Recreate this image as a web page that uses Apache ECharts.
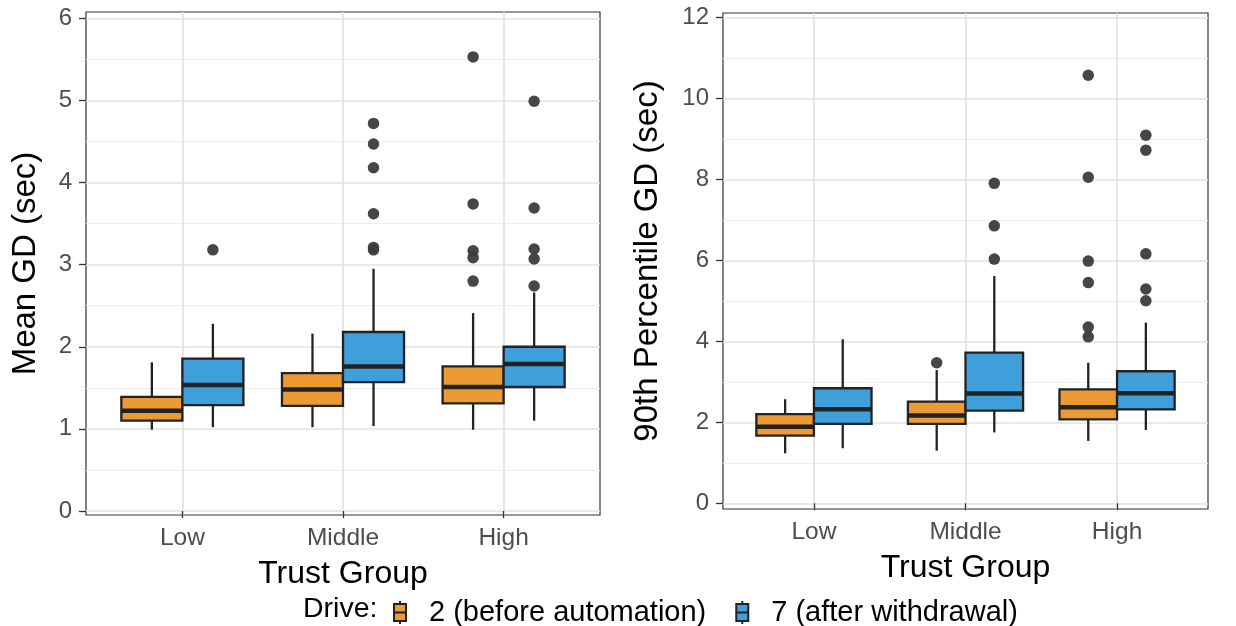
<!DOCTYPE html>
<html>
<head>
<meta charset="utf-8">
<script src="https://cdn.jsdelivr.net/npm/echarts@6/dist/echarts.min.js"></script>
<style>
  html, body { margin: 0; padding: 0; background: #fff; }
  #chart { width: 1236px; height: 626px; }
</style>
</head>
<body>
<div id="chart"></div>
<script>
// Categories and drives
const trustGroups = ['Low', 'Middle', 'High'];
const driveNames = ['2 (before automation)', '7 (after withdrawal)'];

// Mean GD (sec): [lower whisker, Q1, median, Q3, upper whisker] per trust group
const meanGdDrive2 = [
  [0.99, 1.10, 1.22, 1.39, 1.81],
  [1.02, 1.28, 1.48, 1.68, 2.16],
  [0.99, 1.31, 1.51, 1.76, 2.41]
];
const meanGdDrive7 = [
  [1.02, 1.29, 1.535, 1.855, 2.28],
  [1.035, 1.57, 1.76, 2.18, 2.95],
  [1.10, 1.51, 1.79, 2.00, 2.66]
];
const meanGdOutliers2 = [[], [], [5.53, 3.74, 3.17, 3.085, 2.80]];
const meanGdOutliers7 = [[3.18], [4.72, 4.47, 4.18, 3.62, 3.21, 3.18], [4.99, 3.69, 3.19, 3.07, 2.74]];

// 90th percentile GD (sec)
const p90Drive2 = [
  [1.235, 1.67, 1.89, 2.20, 2.57],
  [1.30, 1.96, 2.17, 2.51, 3.29],
  [1.54, 2.07, 2.37, 2.815, 3.47]
];
const p90Drive7 = [
  [1.36, 1.96, 2.32, 2.84, 4.05],
  [1.75, 2.29, 2.71, 3.72, 5.61],
  [1.81, 2.32, 2.72, 3.26, 4.46]
];
const p90Outliers2 = [[], [3.47], [10.57, 8.05, 5.98, 5.45, 4.35, 4.11]];
const p90Outliers7 = [[], [7.90, 6.85, 6.03], [9.09, 8.72, 6.16, 5.29, 5.00]];

// Tick values
const meanGdTicks = [0, 1, 2, 3, 4, 5, 6];
const meanGdMinorTicks = [0.5, 1.5, 2.5, 3.5, 4.5, 5.5];
const p90Ticks = [0, 2, 4, 6, 8, 10, 12];
const p90MinorTicks = [1, 3, 5, 7, 9, 11];
const categoryTicks = [1, 2, 3];

// Styling
const FONT = '"Liberation Sans", Arial, Helvetica, sans-serif';
const DRIVE_COLORS = ['#EC9A34', '#3E9FDB'];
const INK = '#222222';
const BOX_WIDTH = 0.38;
const DODGE = [-0.19, 0.19];

function renderBox(params, api) {
  const x = api.value(0);
  const lo = api.coord([x, api.value(1)]);
  const q1 = api.coord([x, api.value(2)]);
  const med = api.coord([x, api.value(3)]);
  const q3 = api.coord([x, api.value(4)]);
  const hi = api.coord([x, api.value(5)]);
  const half = api.size([BOX_WIDTH, 0])[0] / 2;
  const cx = med[0];
  const fill = api.visual('color');
  return {
    type: 'group',
    children: [
      { type: 'line', shape: { x1: cx, y1: lo[1], x2: cx, y2: q1[1] },
        style: { stroke: INK, lineWidth: 2.3 } },
      { type: 'line', shape: { x1: cx, y1: q3[1], x2: cx, y2: hi[1] },
        style: { stroke: INK, lineWidth: 2.3 } },
      { type: 'rect', shape: { x: cx - half, y: q3[1], width: half * 2, height: q1[1] - q3[1] },
        style: { fill: fill, stroke: INK, lineWidth: 2.3 } },
      { type: 'line', shape: { x1: cx - half, y1: med[1], x2: cx + half, y2: med[1] },
        style: { stroke: INK, lineWidth: 4.5 } }
    ]
  };
}

function boxSeries(summaries, drive, axisIdx, yIdx) {
  return {
    type: 'custom',
    name: driveNames[drive],
    xAxisIndex: axisIdx,
    yAxisIndex: yIdx,
    itemStyle: { color: DRIVE_COLORS[drive] },
    renderItem: renderBox,
    encode: { x: 0, y: [1, 2, 3, 4, 5] },
    data: summaries.map((s, i) => [i + 1 + DODGE[drive]].concat(s)),
    z: 3
  };
}

function outlierSeries(outliers, drive, axisIdx, yIdx) {
  const pts = [];
  outliers.forEach((vals, i) => vals.forEach(v => pts.push([i + 1 + DODGE[drive], v])));
  return {
    type: 'scatter',
    xAxisIndex: axisIdx,
    yAxisIndex: yIdx,
    symbol: 'circle',
    symbolSize: 11.5,
    itemStyle: { color: '#3c3c3c', opacity: 0.95 },
    data: pts,
    z: 4
  };
}

function xAxisFor(gridIndex) {
  return {
    type: 'value',
    gridIndex: gridIndex,
    min: 0.4,
    max: 3.6,
    axisLine: { show: false },
    axisTick: { show: true, length: 7, customValues: categoryTicks,
      lineStyle: { color: '#333', width: 1.3 } },
    axisLabel: { customValues: categoryTicks, formatter: v => trustGroups[Math.round(v) - 1],
      fontSize: 24.5, color: '#4d4d4d', margin: 11, fontFamily: FONT },
    splitLine: { show: true, lineStyle: { color: '#e2e2e2', width: 1.7 } },
    name: 'Trust Group',
    nameLocation: 'middle',
    nameGap: 43,
    nameTextStyle: { fontSize: 32, color: '#000', fontFamily: FONT }
  };
}

function yAxisFor(gridIndex, min, max, ticks, title, gap) {
  return {
    type: 'value',
    gridIndex: gridIndex,
    min: min,
    max: max,
    axisLine: { show: false },
    axisTick: { show: true, length: 7, customValues: ticks,
      lineStyle: { color: '#333', width: 1.3 } },
    axisLabel: { customValues: ticks, fontSize: 24, color: '#4d4d4d', margin: 14, fontFamily: FONT },
    splitLine: { show: true, lineStyle: { color: '#e2e2e2', width: 1.7 } },
    name: title,
    nameLocation: 'middle',
    nameGap: gap,
    nameTextStyle: { fontSize: 33, color: '#000', fontFamily: FONT }
  };
}

function minorYAxisFor(gridIndex, min, max, ticks) {
  return {
    type: 'value',
    gridIndex: gridIndex,
    position: 'left',
    min: min,
    max: max,
    axisLine: { show: false },
    axisTick: { show: false, customValues: ticks },
    axisLabel: { show: false, customValues: ticks },
    splitLine: { show: true, lineStyle: { color: '#ededed', width: 1.1 } }
  };
}

const boxIcon = 'path://M6,0L6,3M0,3L12,3L12,20L0,20ZM0,11.5L12,11.5M6,20L6,23M30,23';

const chart = echarts.init(document.getElementById('chart'), null, { renderer: 'canvas' });
chart.setOption({
  animation: false,
  backgroundColor: '#ffffff',
  textStyle: { fontFamily: FONT },
  title: {
    text: 'Drive:',
    left: 303,
    top: 595,
    padding: 0,
    textStyle: { fontSize: 28.5, fontWeight: 'normal', color: '#000', fontFamily: FONT }
  },
  legend: {
    left: 393,
    top: 598,
    orient: 'horizontal',
    itemWidth: 30,
    itemHeight: 23,
    itemGap: 29,
    padding: 0,
    data: driveNames.map(n => ({ name: n, icon: boxIcon })),
    itemStyle: { borderColor: INK, borderWidth: 2 },
    textStyle: { fontSize: 29, color: '#000', fontFamily: FONT }
  },
  grid: [
    { left: 86, right: 636, top: 12, bottom: 111, show: true,
      borderColor: '#333', borderWidth: 1.2, backgroundColor: 'transparent' },
    { left: 723, right: 28, top: 13, bottom: 117, show: true,
      borderColor: '#333', borderWidth: 1.2, backgroundColor: 'transparent' }
  ],
  xAxis: [xAxisFor(0), xAxisFor(1)],
  yAxis: [
    yAxisFor(0, -0.049, 6.077, meanGdTicks, 'Mean GD (sec)', 44),
    minorYAxisFor(0, -0.049, 6.077, meanGdMinorTicks),
    yAxisFor(1, -0.141, 12.106, p90Ticks, '90th Percentile GD (sec)', 59),
    minorYAxisFor(1, -0.141, 12.106, p90MinorTicks)
  ],
  series: [
    boxSeries(meanGdDrive2, 0, 0, 0),
    boxSeries(meanGdDrive7, 1, 0, 0),
    outlierSeries(meanGdOutliers2, 0, 0, 0),
    outlierSeries(meanGdOutliers7, 1, 0, 0),
    boxSeries(p90Drive2, 0, 1, 2),
    boxSeries(p90Drive7, 1, 1, 2),
    outlierSeries(p90Outliers2, 0, 1, 2),
    outlierSeries(p90Outliers7, 1, 1, 2)
  ]
});
</script>
</body>
</html>
